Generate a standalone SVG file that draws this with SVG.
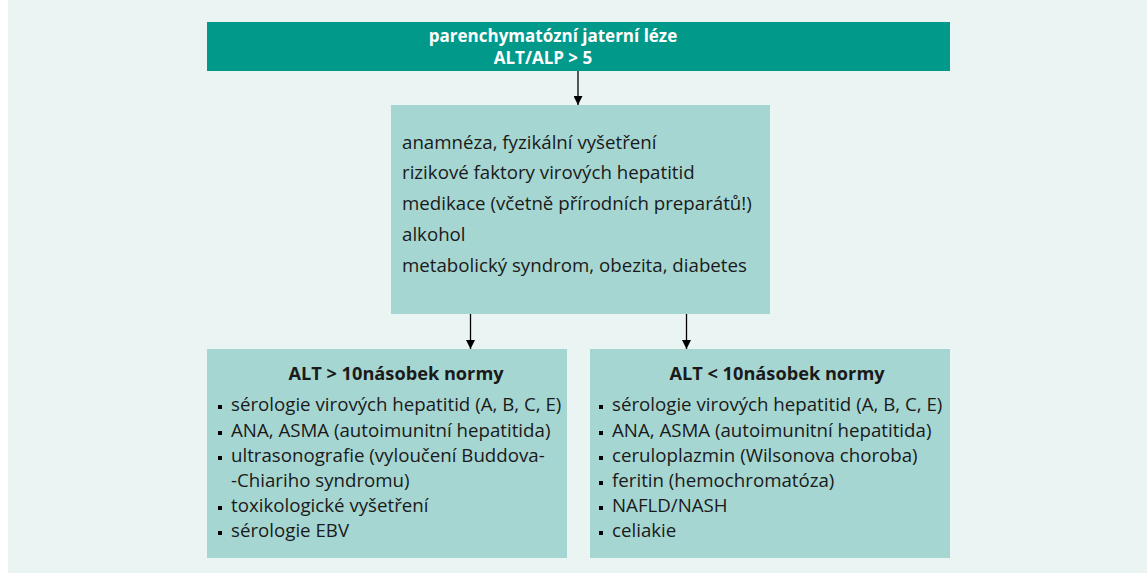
<svg xmlns="http://www.w3.org/2000/svg" width="1147" height="573" viewBox="0 0 1147 573">
<defs>
<style>
.bg{fill:#eaf5f3}
.head{fill:#00998a}
.box{fill:#a6d6d2}
text{font-family:"Open Sans","Noto Sans",sans-serif;font-size:18.7px;fill:#1a1a1a}
.w{fill:#ffffff;font-weight:bold;text-anchor:middle;font-size:17px}
.b{font-weight:bold;text-anchor:middle;font-size:18.2px}
.edge{stroke:#000;stroke-width:1.3;fill:none;marker-end:url(#ah)}
.dot{fill:#000}
</style>
<marker id="ah" viewBox="0 0 10 10" refX="10" refY="5" markerWidth="9" markerHeight="9" markerUnits="userSpaceOnUse" orient="auto">
<path d="M0,0 L10,5 L0,10 z" fill="#000"/>
</marker>
</defs>
<rect x="0" y="0" width="1147" height="573" fill="#ffffff"/>
<rect class="bg" x="8" y="0" width="1139" height="573"/>
<g id="connectors">
<line class="edge" x1="578" y1="71" x2="578" y2="105"/>
<line class="edge" x1="470.5" y1="314" x2="470.5" y2="349"/>
<line class="edge" x1="686.5" y1="314" x2="686.5" y2="349"/>
</g>
<g id="top">
<rect class="head" x="207" y="22" width="743" height="49"/>
<text class="w" x="553" y="41.5">parenchymatózní jaterní léze</text>
<text class="w" x="543" y="64">ALT/ALP &gt; 5</text>
</g>
<g id="history">
<rect class="box" x="391" y="105" width="379" height="209"/>
<text x="402" y="148.5">anamnéza, fyzikální vyšetření</text>
<text x="402" y="179">rizikové faktory virových hepatitid</text>
<text x="402" y="210">medikace (včetně přírodních preparátů!)</text>
<text x="402" y="241">alkohol</text>
<text x="402" y="272">metabolický syndrom, obezita, diabetes</text>
</g>
<g id="high">
<rect class="box" x="207" y="349" width="360" height="209"/>
<text class="b" x="396" y="380">ALT &gt; 10násobek normy</text>
<rect class="dot" x="218" y="405" width="4" height="4"/>
<text x="231" y="411">sérologie virových hepatitid (A, B, C, E)</text>
<rect class="dot" x="218" y="431" width="4" height="4"/>
<text x="231" y="437">ANA, ASMA (autoimunitní hepatitida)</text>
<rect class="dot" x="218" y="456" width="4" height="4"/>
<text x="231" y="462">ultrasonografie (vyloučení Buddova-</text>
<text x="231" y="487">-Chiariho syndromu)</text>
<rect class="dot" x="218" y="506" width="4" height="4"/>
<text x="231" y="512">toxikologické vyšetření</text>
<rect class="dot" x="218" y="531" width="4" height="4"/>
<text x="231" y="537">sérologie EBV</text>
</g>
<g id="low">
<rect class="box" x="590" y="349" width="360" height="209"/>
<text class="b" x="777" y="380">ALT &lt; 10násobek normy</text>
<rect class="dot" x="599" y="405" width="4" height="4"/>
<text x="612" y="411">sérologie virových hepatitid (A, B, C, E)</text>
<rect class="dot" x="599" y="431" width="4" height="4"/>
<text x="612" y="437">ANA, ASMA (autoimunitní hepatitida)</text>
<rect class="dot" x="599" y="456" width="4" height="4"/>
<text x="612" y="462">ceruloplazmin (Wilsonova choroba)</text>
<rect class="dot" x="599" y="481" width="4" height="4"/>
<text x="612" y="487">feritin (hemochromatóza)</text>
<rect class="dot" x="599" y="506" width="4" height="4"/>
<text x="612" y="512">NAFLD/NASH</text>
<rect class="dot" x="599" y="531" width="4" height="4"/>
<text x="612" y="537">celiakie</text>
</g>
</svg>
